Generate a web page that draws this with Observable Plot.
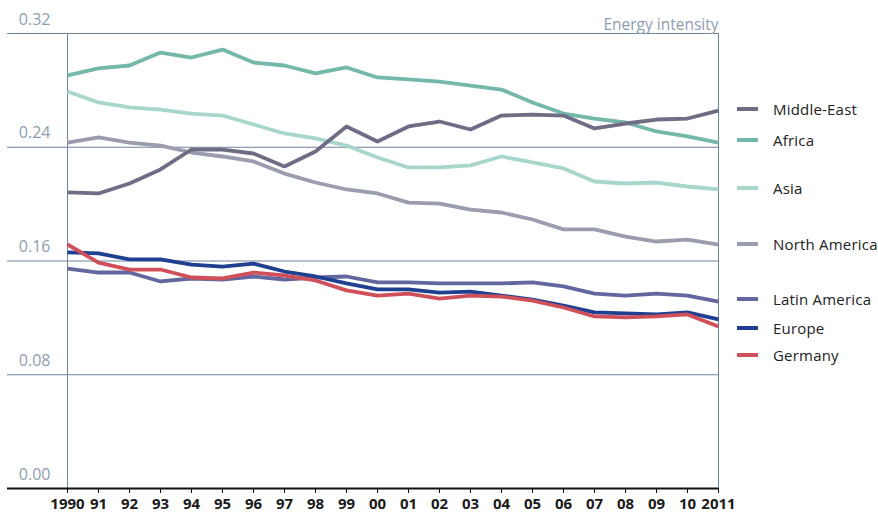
<!DOCTYPE html>
<html>
<head>
<meta charset="utf-8">
<script src="https://cdn.jsdelivr.net/npm/d3@7"></script>
<script src="https://cdn.jsdelivr.net/npm/@observablehq/plot@0.6"></script>
<style>
  body { margin: 0; background: #fff; }
  #wrap { position: relative; width: 878px; height: 512px; font-family: "Open Sans", "Noto Sans", sans-serif; }
  .legend { position: absolute; left: 737px; top: 0; }
  .item { position: absolute; left: 0; white-space: nowrap; display: flex; align-items: center; transform: translateY(-50%); }
  .sw { width: 21px; height: 4px; margin-right: 15px; }
  .lab { font-size: 15px; font-weight: 500; color: #222; letter-spacing: 0.2px; }
</style>
</head>
<body>
<div id="wrap"></div>
<script>
const years = d3.range(1990, 2012);
const yTicks = [0, 0.08, 0.16, 0.24, 0.32];
const seriesNames = ["North America", "Asia", "Africa", "Middle-East", "Latin America", "Europe", "Germany"];
const seriesColors = ["#9b9cae", "#a9d6cc", "#74b8aa", "#6f6c85", "#6367a0", "#1f3f91", "#d0505a"];

const northAmerica = [0.2433,0.2469,0.2433,0.2412,0.2363,0.2335,0.2300,0.2215,0.2152,0.2103,0.2075,0.2011,0.2004,0.1962,0.1941,0.1892,0.1822,0.1822,0.1772,0.1737,0.1751,0.1716];
const asia = [0.2792,0.2715,0.2680,0.2665,0.2637,0.2623,0.2560,0.2497,0.2462,0.2412,0.2328,0.2258,0.2258,0.2272,0.2335,0.2293,0.2251,0.2159,0.2145,0.2152,0.2124,0.2103];
const africa = [0.2905,0.2954,0.2975,0.3066,0.3031,0.3087,0.2996,0.2975,0.2919,0.2961,0.2891,0.2877,0.2862,0.2834,0.2806,0.2715,0.2637,0.2602,0.2574,0.2511,0.2476,0.2433];
const middleEast = [0.2082,0.2075,0.2145,0.2244,0.2384,0.2384,0.2356,0.2265,0.2370,0.2546,0.2440,0.2546,0.2581,0.2525,0.2623,0.2630,0.2623,0.2532,0.2567,0.2595,0.2602,0.2658];
const latinAmerica = [0.1547,0.1519,0.1519,0.1456,0.1477,0.1470,0.1491,0.1470,0.1484,0.1491,0.1449,0.1449,0.1442,0.1442,0.1442,0.1449,0.1421,0.1371,0.1357,0.1371,0.1357,0.1315];
const europe = [0.1660,0.1653,0.1611,0.1611,0.1575,0.1561,0.1582,0.1526,0.1491,0.1442,0.1400,0.1400,0.1378,0.1385,0.1357,0.1329,0.1287,0.1238,0.1231,0.1224,0.1238,0.1189];
const germany = [0.1716,0.1589,0.1540,0.1540,0.1484,0.1477,0.1519,0.1498,0.1463,0.1393,0.1357,0.1371,0.1336,0.1357,0.1350,0.1322,0.1273,0.1210,0.1203,0.1210,0.1224,0.1139];

const seriesValues = [northAmerica, asia, africa, middleEast, latinAmerica, europe, germany];

const legendOrder = ["Middle-East", "Africa", "Asia", "North America", "Latin America", "Europe", "Germany"];
const legendTops = [109, 140, 188, 244, 299, 328, 355];

const data = [];
seriesNames.forEach((name, i) => {
  years.forEach((yr, j) => data.push({series: name, year: yr, value: seriesValues[i][j]}));
});

const gridColor = "#6d83a0";
const labelColor = "#8d9db3";

const chart = Plot.plot({
  width: 878,
  height: 512,
  marginLeft: 67,
  marginRight: 160,
  marginTop: 33,
  marginBottom: 24,
  style: {fontFamily: "'Open Sans', 'Noto Sans', sans-serif", background: "#fff"},
  x: {domain: [1990, 2011]},
  y: {domain: [0, 0.32]},
  color: {domain: seriesNames, range: seriesColors},
  marks: [
    Plot.ruleY(yTicks.filter(d => d > 0), {stroke: gridColor, strokeWidth: 1, insetLeft: -60}),
    Plot.ruleX([1990, 2011], {stroke: gridColor, strokeWidth: 1}),
    Plot.axisY({ticks: yTicks, tickSize: 0, tickPadding: 17, dy: -14, tickFormat: d3.format(".2f"), fill: labelColor, fontSize: 16, label: null}),
    Plot.text(["Energy intensity"], {frameAnchor: "top-right", dy: -15, textAnchor: "end", fill: labelColor, fontSize: 15.5}),
    Plot.line(data, {x: "year", y: "value", z: "series", stroke: "series", strokeWidth: 3.8, strokeLinejoin: "round", strokeLinecap: "butt"}),
    Plot.ruleY([0], {stroke: "#111", strokeWidth: 2.2, insetLeft: -60}),
    Plot.axisX({ticks: years, tickSize: 5, tickPadding: 5, stroke: "#111",
      tickFormat: d => (d === 1990 || d === 2011) ? String(d) : String(d % 100).padStart(2, "0"),
      fill: "#1a1a1a", fontSize: 15, fontWeight: "bold", label: null})
  ]
});

const wrap = document.getElementById("wrap");
wrap.appendChild(chart);

const legend = document.createElement("div");
legend.className = "legend";
legendOrder.forEach((name, i) => {
  const item = document.createElement("div");
  item.className = "item";
  item.style.top = legendTops[i] + "px";
  const sw = document.createElement("div");
  sw.className = "sw";
  sw.style.background = seriesColors[seriesNames.indexOf(name)];
  const lab = document.createElement("span");
  lab.className = "lab";
  lab.textContent = name;
  item.appendChild(sw);
  item.appendChild(lab);
  legend.appendChild(item);
});
wrap.appendChild(legend);
</script>
</body>
</html>
